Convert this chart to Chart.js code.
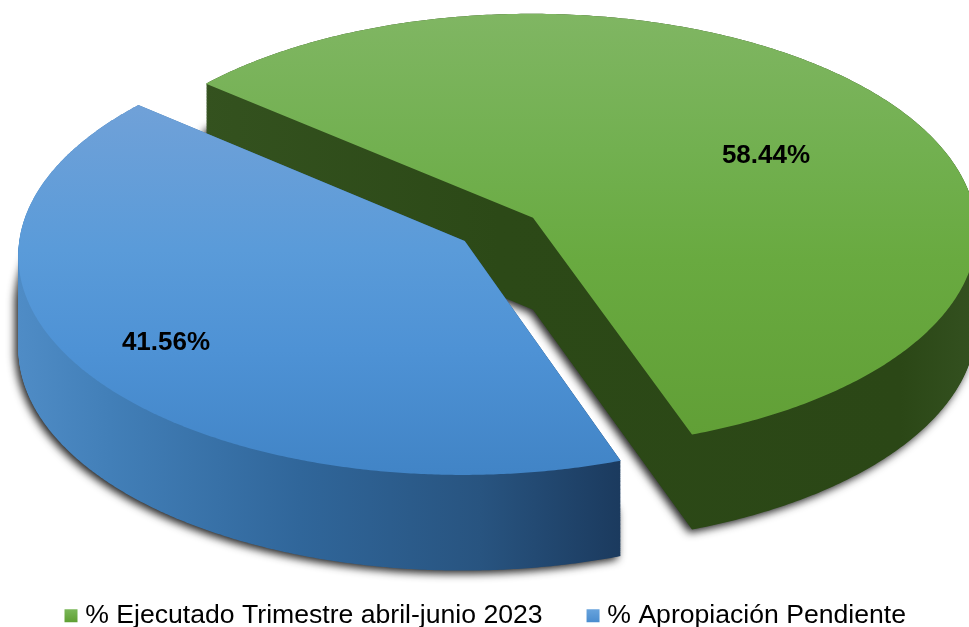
<!DOCTYPE html>
<html>
<head>
<meta charset="utf-8">
<style>html,body{margin:0;padding:0;background:#fff}canvas{display:block}</style>
<script src="https://cdn.jsdelivr.net/npm/chart.js@4/dist/chart.umd.js"></script>
</head>
<body>
<canvas id="c" width="969" height="627"></canvas>
<script>
const categories = ['% Ejecutado Trimestre abril-junio 2023', '% Apropiación Pendiente'];
const values = [58.44, 41.56];

// Presentation of the tilted, exploded disc (not data)
const VIEW = {
  cx: 499, cy: 229.4, a: 444, b: 218, k: 0.0615,
  depth: 92, depthSlope: 0.015, radius: 200, explode: 18.7, rotation: 310.1,
  legendShiftX: 3.5, legendShiftY: 12,
  labelAt: [[766, 156], [166, 342.5]],
  top: [
    [[12, '#80b663'], [150, '#72b050'], [260, '#69aa40'], [440, '#619f36']],
    [[104, '#70a1d8'], [250, '#5a9bd9'], [350, '#4e92d5'], [475, '#4184c6']]
  ],
  wall: [
    [[200, '#34521f'], [500, '#2c4917'], [900, '#2b4716'], [969, '#33501f']],
    [[18, '#4f8cc6'], [110, '#427fb8'], [300, '#30669a'], [480, '#285480'], [622, '#1b3a5e']]
  ]
};

function project(u, v) {
  const w = 1 - VIEW.k * v;
  return [VIEW.cx + VIEW.a * u / w, VIEW.cy + VIEW.b * v / w];
}
function outline(arc) {
  const pts = [];
  const mid = (arc.startAngle + arc.endAngle) / 2;
  const off = (arc.options.offset || 0) / arc.outerRadius;
  const ox = off * Math.cos(mid), oy = off * Math.sin(mid);
  pts.push(project(ox, oy));
  const n = 360;
  for (let i = 0; i <= n; i++) {
    const t = arc.startAngle + (arc.endAngle - arc.startAngle) * i / n;
    pts.push(project(ox + Math.cos(t), oy + Math.sin(t)));
  }
  return pts;
}
function trace(ctx, pts, drop) {
  ctx.beginPath();
  pts.forEach((p, i) => {
    const y = p[1] + drop * (VIEW.depth + VIEW.depthSlope * (p[1] - VIEW.cy));
    if (i) ctx.lineTo(p[0], y); else ctx.moveTo(p[0], y);
  });
  ctx.closePath();
}
function grad(ctx, stops, vertical) {
  const first = stops[0][0], last = stops[stops.length - 1][0];
  const g = vertical ? ctx.createLinearGradient(0, first, 0, last) : ctx.createLinearGradient(first, 0, last, 0);
  stops.forEach(s => g.addColorStop((s[0] - first) / (last - first), s[1]));
  return g;
}
function layers(chart, pts, fill, from) {
  const off = document.createElement('canvas');
  off.width = chart.width; off.height = chart.height;
  const o = off.getContext('2d');
  o.fillStyle = fill(o);
  for (let s = from; s <= 120; s++) { trace(o, pts, s / 120); o.fill(); }
  return off;
}

const solidSlice = {
  id: 'solidSlice',
  afterLayout(chart) {
    const l = chart.legend;
    l.left += VIEW.legendShiftX; l.right += VIEW.legendShiftX;
    l.top += VIEW.legendShiftY; l.bottom += VIEW.legendShiftY;
  },
  beforeDatasetDraw(chart, args) {
    const ctx = chart.ctx;
    const meta = args.meta;
    const away = 3000;
    [0, 1].forEach(i => {
      const arc = meta.data[i];
      const pts = outline(arc);
      const wallFill = o => grad(o, VIEW.wall[i], false);
      ctx.save();
      ctx.shadowColor = 'rgba(20,20,20,0.95)';
      ctx.shadowBlur = 9;
      ctx.shadowOffsetX = away - 3;
      ctx.shadowOffsetY = 3;
      ctx.drawImage(layers(chart, pts, wallFill, 60), -away, 0);
      ctx.restore();
      ctx.drawImage(layers(chart, pts, wallFill, 0), 0, 0);
      ctx.save();
      ctx.fillStyle = grad(ctx, VIEW.top[i], true);
      trace(ctx, pts, 0);
      ctx.fill();
      ctx.restore();
    });
    return false;
  },
  afterDatasetsDraw(chart) {
    const ctx = chart.ctx;
    ctx.save();
    ctx.fillStyle = '#000';
    ctx.font = 'bold 26px "Liberation Sans", Arial, sans-serif';
    ctx.textAlign = 'center';
    ctx.textBaseline = 'middle';
    values.forEach((v, i) => ctx.fillText(v.toFixed(2) + '%', VIEW.labelAt[i][0], VIEW.labelAt[i][1]));
    ctx.restore();
  }
};

const canvas = document.getElementById('c');
const c2d = canvas.getContext('2d');
new Chart(c2d, {
  type: 'pie',
  data: {
    labels: categories,
    datasets: [{
      data: values,
      backgroundColor: ['#6aaa45', '#5b9bd5'],
      borderWidth: 0,
      offset: VIEW.explode
    }]
  },
  options: {
    responsive: false,
    animation: false,
    radius: VIEW.radius,
    rotation: VIEW.rotation,
    plugins: {
      tooltip: { enabled: false },
      legend: {
        position: 'bottom',
        labels: {
          usePointStyle: true,
          pointStyle: 'rect',
          boxWidth: 2,
          boxHeight: 13,
          padding: 49.5,
          color: '#000',
          font: { family: '"Liberation Sans", Arial, sans-serif', size: 26.6 },
          generateLabels(chart) {
            const stops = [['#7dba5c', '#5f9f33'], ['#6aa5de', '#4b8dcf']];
            return categories.map((t, i) => {
              const g = chart.ctx.createLinearGradient(0, 608, 0, 622);
              g.addColorStop(0, stops[i][0]);
              g.addColorStop(1, stops[i][1]);
              return { text: t, fillStyle: g, strokeStyle: g, fontColor: '#000', lineWidth: 0, pointStyle: 'rect', hidden: false, index: i };
            });
          }
        }
      }
    }
  },
  plugins: [solidSlice]
});
</script>
</body>
</html>
